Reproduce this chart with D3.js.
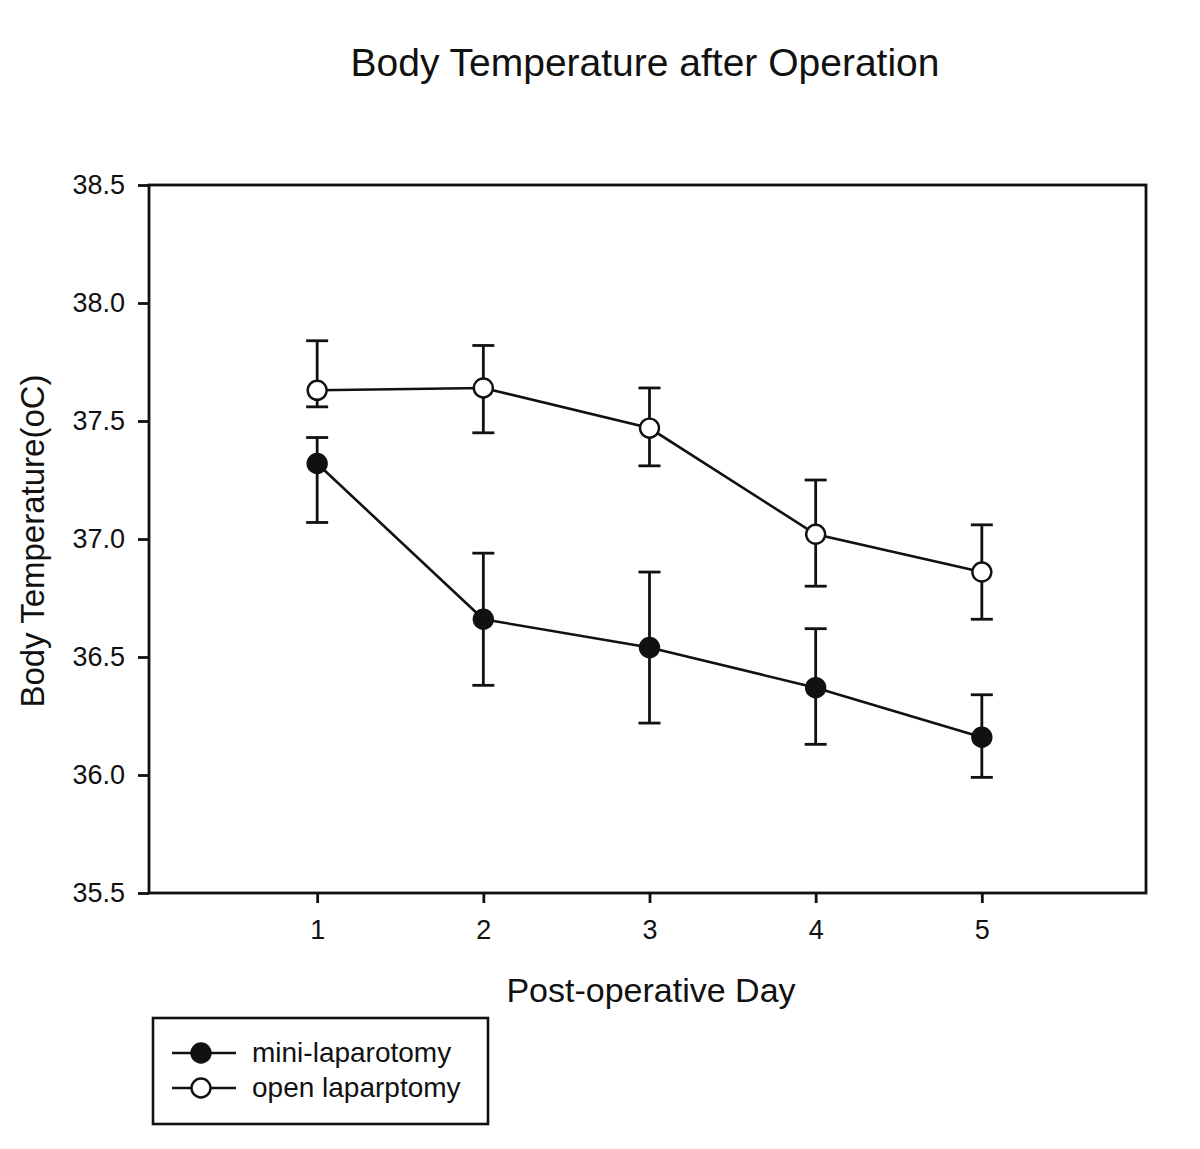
<!DOCTYPE html>
<html>
<head>
<meta charset="utf-8">
<script src="https://cdn.jsdelivr.net/npm/d3@7"></script>
<style>
  body { margin: 0; background: #fff; }
  text { font-family: "Liberation Sans", Arial, sans-serif; fill: #111; }
</style>
</head>
<body>
<svg width="1200" height="1149"></svg>
<script>
const days = [1, 2, 3, 4, 5];
const yTicks = [35.5, 36.0, 36.5, 37.0, 37.5, 38.0, 38.5];

const miniMean = [37.32, 36.66, 36.54, 36.37, 36.16];
const miniUpper = [37.43, 36.94, 36.86, 36.62, 36.34];
const miniLower = [37.07, 36.38, 36.22, 36.13, 35.99];

const openMean = [37.63, 37.64, 37.47, 37.02, 36.86];
const openUpper = [37.84, 37.82, 37.64, 37.25, 37.06];
const openLower = [37.56, 37.45, 37.31, 36.80, 36.66];

const series = [
  { name: "mini-laparotomy", fill: "#111", mean: miniMean, upper: miniUpper, lower: miniLower },
  { name: "open laparptomy", fill: "#fff", mean: openMean, upper: openUpper, lower: openLower }
];

const svg = d3.select("svg");
const plotL = 149, plotR = 1146, plotT = 185, plotB = 893;

const x = d3.scaleLinear().domain([0, 6]).range([plotL + 2, plotR + 2]);
const y = d3.scaleLinear().domain([35.5, 38.5]).range([plotB, plotT]);

// frame
svg.append("rect")
  .attr("x", plotL).attr("y", plotT)
  .attr("width", plotR - plotL).attr("height", plotB - plotT)
  .attr("fill", "none").attr("stroke", "#111").attr("stroke-width", 2.8);

const yAxis = svg.append("g")
  .attr("transform", `translate(${plotL},0)`)
  .call(d3.axisLeft(y).tickValues(yTicks).tickFormat(d3.format(".1f")).tickSize(11).tickPadding(13));
const xAxis = svg.append("g")
  .attr("transform", `translate(0,${plotB})`)
  .call(d3.axisBottom(x).tickValues(days).tickFormat(d3.format("d")).tickSize(10).tickPadding(17));

[yAxis, xAxis].forEach(a => {
  a.select(".domain").remove();
  a.selectAll("line").attr("stroke", "#111").attr("stroke-width", 2.8);
  a.selectAll("text").attr("font-size", 27).attr("fill", "#111")
    .attr("font-family", '"Liberation Sans", Arial, sans-serif');
});

// error bars, lines, markers
series.forEach(s => {
  const g = svg.append("g");
  days.forEach((d, i) => {
    g.append("line")
      .attr("x1", x(d)).attr("x2", x(d))
      .attr("y1", y(s.upper[i])).attr("y2", y(s.lower[i]))
      .attr("stroke", "#111").attr("stroke-width", 2.8);
    [s.upper[i], s.lower[i]].forEach(v => {
      g.append("line")
        .attr("x1", x(d) - 11).attr("x2", x(d) + 11)
        .attr("y1", y(v)).attr("y2", y(v))
        .attr("stroke", "#111").attr("stroke-width", 2.8);
    });
  });
  g.append("path")
    .datum(days.map((d, i) => [d, s.mean[i]]))
    .attr("fill", "none").attr("stroke", "#111").attr("stroke-width", 2.6)
    .attr("d", d3.line().x(p => x(p[0])).y(p => y(p[1])));
  g.selectAll("circle")
    .data(days.map((d, i) => [d, s.mean[i]]))
    .enter()
    .append("circle")
    .attr("cx", p => x(p[0])).attr("cy", p => y(p[1]))
    .attr("r", 9.5)
    .attr("fill", s.fill).attr("stroke", "#111").attr("stroke-width", 2.4);
});

// titles
svg.append("text")
  .attr("x", 645).attr("y", 76)
  .attr("text-anchor", "middle").attr("font-size", 39)
  .text("Body Temperature after Operation");
svg.append("text")
  .attr("x", 651).attr("y", 1002)
  .attr("text-anchor", "middle").attr("font-size", 34)
  .text("Post-operative Day");
svg.append("text")
  .attr("transform", "translate(44,541) rotate(-90)")
  .attr("text-anchor", "middle").attr("font-size", 33)
  .text("Body Temperature(oC)");

// legend
const legend = svg.append("g");
legend.append("rect")
  .attr("x", 153).attr("y", 1018).attr("width", 335).attr("height", 106)
  .attr("fill", "none").attr("stroke", "#111").attr("stroke-width", 2.6);
series.forEach((s, i) => {
  const ly = 1053 + i * 35;
  legend.append("line")
    .attr("x1", 172).attr("x2", 236).attr("y1", ly).attr("y2", ly)
    .attr("stroke", "#111").attr("stroke-width", 2.6);
  legend.append("circle")
    .attr("cx", 201).attr("cy", ly).attr("r", 9.5)
    .attr("fill", s.fill).attr("stroke", "#111").attr("stroke-width", 2.4);
  legend.append("text")
    .attr("x", 252).attr("y", ly + 9).attr("font-size", 28)
    .text(s.name);
});
</script>
</body>
</html>
